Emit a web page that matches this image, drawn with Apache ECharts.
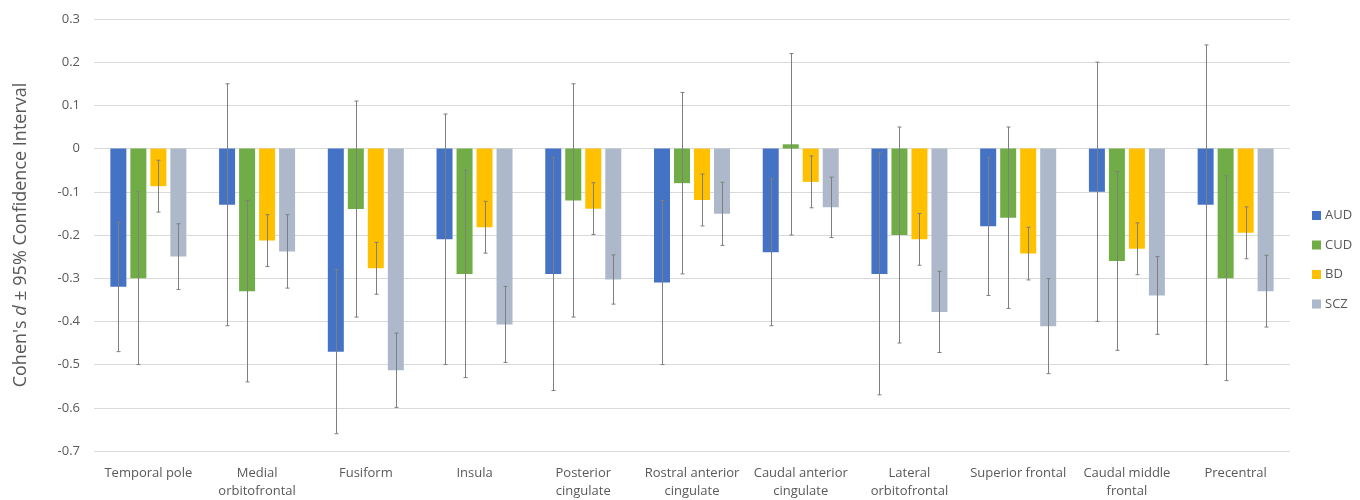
<!DOCTYPE html>
<html>
<head>
<meta charset="utf-8">
<script src="https://cdn.jsdelivr.net/npm/echarts@6/dist/echarts.min.js"></script>
<style>html,body{margin:0;padding:0;background:#fff}#c{width:1360px;height:500px}</style>
</head>
<body>
<div id="c"></div>
<script>
const categories = ['Temporal pole','Medial\norbitofrontal','Fusiform','Insula','Posterior\ncingulate','Rostral anterior\ncingulate','Caudal anterior\ncingulate','Lateral\norbitofrontal','Superior frontal','Caudal middle\nfrontal','Precentral'];
const yTicks = [0.3,0.2,0.1,0,-0.1,-0.2,-0.3,-0.4,-0.5,-0.6,-0.7];

const audValues = [-0.32,-0.13,-0.47,-0.21,-0.29,-0.31,-0.24,-0.29,-0.18,-0.10,-0.13];
const audErr    = [0.15,0.28,0.19,0.29,0.27,0.19,0.17,0.28,0.16,0.30,0.37];
const cudValues = [-0.30,-0.33,-0.14,-0.29,-0.12,-0.08,0.01,-0.20,-0.16,-0.26,-0.30];
const cudErr    = [0.20,0.21,0.25,0.24,0.27,0.21,0.21,0.25,0.21,0.207,0.237];
const bdValues  = [-0.087,-0.213,-0.277,-0.182,-0.139,-0.119,-0.077,-0.21,-0.243,-0.232,-0.195];
const bdErr     = [0.06,0.06,0.06,0.06,0.06,0.06,0.06,0.06,0.061,0.06,0.06];
const sczValues = [-0.25,-0.238,-0.513,-0.407,-0.303,-0.151,-0.136,-0.378,-0.411,-0.34,-0.33];
const sczErr    = [0.076,0.085,0.086,0.088,0.057,0.073,0.07,0.094,0.11,0.09,0.083];

const seriesNames = ['AUD','CUD','BD','SCZ'];
const seriesValues = [audValues,cudValues,bdValues,sczValues];
const seriesErrs = [audErr,cudErr,bdErr,sczErr];
const colors = ['#4472C4','#70AD47','#FFC000','#ADB9CA'];

const BAR_W = 16, BAR_GAP = 4;
const chart = echarts.init(document.getElementById('c'));
const series = [];
seriesNames.forEach((n,i)=>{
  series.push({name:n,type:'bar',data:seriesValues[i],barWidth:BAR_W,barGap:'25%',
    itemStyle:{color:colors[i]},emphasis:{disabled:true}});
});
seriesNames.forEach((n,i)=>{
  const data = seriesValues[i].map((v,k)=>[k, v-seriesErrs[i][k], v+seriesErrs[i][k]]);
  series.push({type:'custom',name:n+'_err',data:data,z:10,silent:true,
    renderItem:function(params,api){
      const k = api.value(0);
      const lo = api.coord([k, api.value(1)]);
      const hi = api.coord([k, api.value(2)]);
      const off = (i-1.5)*(BAR_W+BAR_GAP);
      const x = Math.round(lo[0]+off)+0.5;
      const st = {stroke:'#7F7F7F',lineWidth:1};
      return {type:'group',children:[
        {type:'line',shape:{x1:x,y1:hi[1],x2:x,y2:lo[1]},style:st},
        {type:'line',shape:{x1:x-2,y1:hi[1],x2:x+2,y2:hi[1]},style:st},
        {type:'line',shape:{x1:x-2,y1:lo[1],x2:x+2,y2:lo[1]},style:st}
      ]};
    },encode:{x:0,y:[1,2]}});
});

chart.setOption({
  animation:false,
  textStyle:{fontFamily:'Open Sans'},
  grid:{left:94,right:70,top:19,bottom:42},
  legend:{orient:'vertical',left:1307,top:204,itemWidth:9,itemHeight:9,itemGap:16.5,
    data:seriesNames,textStyle:{fontSize:13,color:'#595959',padding:[0,0,0,-1]},icon:'rect'},
  xAxis:{type:'category',data:categories,
    axisLine:{show:false,onZero:false},axisTick:{show:false},
    axisLabel:{color:'#595959',fontSize:13,margin:13,lineHeight:18,interval:0}},
  yAxis:{type:'value',min:-0.7,max:0.3,interval:0.1,
    axisLabel:{color:'#595959',fontSize:13,margin:14,
      formatter:v=>{const r=Math.round(v*10)/10; return r===0?'0':String(r);}},
    splitLine:{lineStyle:{color:'#D9D9D9'}},axisLine:{show:false},axisTick:{show:false},
    name:"Cohen's {i|d} ± 95% Confidence Interval",nameLocation:'middle',nameGap:64,nameRotate:90,
    nameTextStyle:{color:'#595959',fontSize:18,rich:{i:{fontStyle:'italic',fontSize:18,color:'#595959'}}}},
  series:series
});
</script>
</body>
</html>
